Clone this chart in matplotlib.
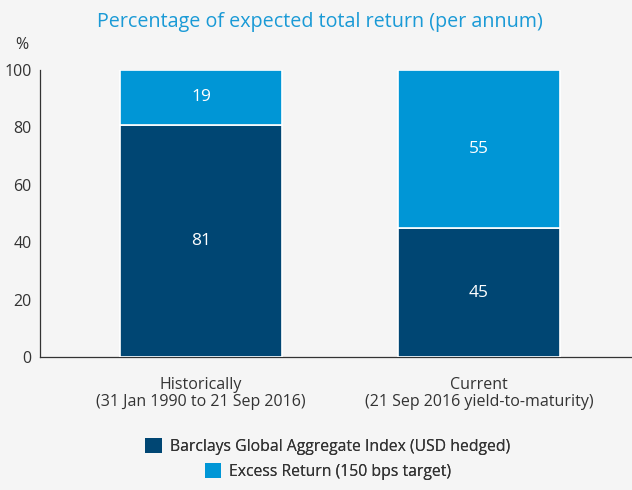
import matplotlib.pyplot as plt
import numpy as np
from matplotlib.patches import Patch

categories = ["Historically\n(31 Jan 1990 to 21 Sep 2016)", "Current\n(21 Sep 2016 yield-to-maturity)"]
index_share = [81, 45]
excess_share = [19, 55]
series_labels = ["Barclays Global Aggregate Index (USD hedged)", "Excess Return (150 bps target)"]

dark_blue = "#004673"
light_blue = "#0096d6"
bg = "#f5f5f5"
text_col = "#333333"

plt.rcParams.update({"font.family": ["Open Sans", "DejaVu Sans"], "text.color": text_col})

fig = plt.figure(figsize=(6.32, 4.90), dpi=100, facecolor=bg)
ax = fig.add_axes([0.063, 0.271, 0.937, 0.586], facecolor=bg)

x = np.arange(len(categories))
width = 0.58
b1 = ax.bar(x, index_share, width=width, color=dark_blue, edgecolor="white", linewidth=1.2, zorder=3)
b2 = ax.bar(x, excess_share, width=width, bottom=index_share, color=light_blue, edgecolor="white", linewidth=1.2, zorder=3)

for bars, vals, bottoms in [(b1, index_share, [0, 0]), (b2, excess_share, index_share)]:
    for b, v, bt in zip(bars, vals, bottoms):
        ax.text(b.get_x() + b.get_width() / 2, bt + v / 2, f"{v}", ha="center", va="center",
                color="white", fontsize=12.5, zorder=4)

ax.set_xlim(-0.58, 1.55)
ax.set_ylim(0, 100)
ax.set_yticks([0, 20, 40, 60, 80, 100])
ax.tick_params(axis="y", length=0, pad=6, labelsize=11.5, labelcolor=text_col)
ax.set_xticks(x)
ax.set_xticklabels(categories, fontsize=11.5, color=text_col, linespacing=1.1)
ax.tick_params(axis="x", length=0, pad=14)
for s in ["top", "right"]:
    ax.spines[s].set_visible(False)
for s in ["left", "bottom"]:
    ax.spines[s].set_color("#333333")
    ax.spines[s].set_linewidth(0.9)

fig.text(0.506, 0.955, "Percentage of expected total return (per annum)", ha="center", va="center",
         fontsize=14.2, color="#1a9ad6")
fig.text(0.035, 0.908, "%", ha="center", va="center", fontsize=11.5)

for color, lab, ypos in [(dark_blue, series_labels[0], 0.088), (light_blue, series_labels[1], 0.037)]:
    leg = fig.legend([Patch(facecolor=color, edgecolor="none")], [lab], loc="center",
                     bbox_to_anchor=(0.519, ypos), frameon=False,
                     fontsize=11.3, handlelength=1.08, handleheight=1.08, handletextpad=0.5,
                     borderpad=0, borderaxespad=0)
    fig.add_artist(leg)

fig.savefig("out.png", dpi=100, facecolor=bg)
